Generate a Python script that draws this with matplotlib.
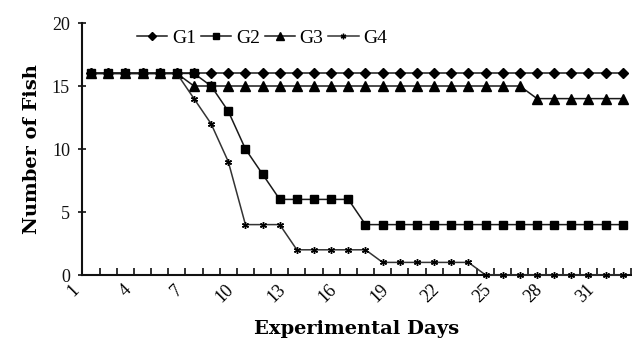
import matplotlib
matplotlib.use("Agg")
import matplotlib.pyplot as plt
import matplotlib.transforms as mtransforms
import numpy as np

days = list(range(1, 33))
g1 = [16] * 32
g2 = [16, 16, 16, 16, 16, 16, 16, 15, 13, 10, 8, 6, 6, 6, 6, 6,
      4, 4, 4, 4, 4, 4, 4, 4, 4, 4, 4, 4, 4, 4, 4, 4]
g3 = [16, 16, 16, 16, 16, 16, 15, 15, 15, 15, 15, 15, 15, 15, 15, 15,
      15, 15, 15, 15, 15, 15, 15, 15, 15, 15, 14, 14, 14, 14, 14, 14]
g4 = [16, 16, 16, 16, 16, 16, 14, 12, 9, 4, 4, 4, 2, 2, 2, 2,
      2, 1, 1, 1, 1, 1, 1, 0, 0, 0, 0, 0, 0, 0, 0, 0]
series_names = ["G1", "G2", "G3", "G4"]
xtick_labels = [str(d) for d in range(1, 33, 3)]
yticks = [0, 5, 10, 15, 20]

plt.rcParams['font.family'] = ['Liberation Serif', 'DejaVu Serif']

fig = plt.figure(figsize=(6.32, 3.46), dpi=100)
ax = fig.add_axes([0.1305, 0.2052, 0.8685, 0.7283])

lc = '#1a1a1a'
lw = 1.1
h1, = ax.plot(days, g1, color=lc, lw=lw, marker='D', ms=4.6, mfc='black', mec='black', zorder=3, clip_on=False)
h3, = ax.plot(days, g3, color=lc, lw=lw, marker='^', ms=6.5, mfc='black', mec='black', zorder=4, clip_on=False)
h4, = ax.plot(days, g4, color='#333333', lw=lw, marker=(6, 2, 0), ms=5, mfc='black', mec='black', mew=1.0, zorder=5, clip_on=False)
h2, = ax.plot(days, g2, color=lc, lw=lw, marker='s', ms=6.2, mfc='black', mec='black', zorder=6, clip_on=False)

ax.set_xlim(0.5, 32.5)
ax.set_ylim(0, 20)

for s in ['top', 'right']:
    ax.spines[s].set_visible(False)
for s in ['left', 'bottom']:
    ax.spines[s].set_linewidth(1.5)
    ax.spines[s].set_color('#111111')

ax.set_yticks(yticks)
ax.set_yticklabels([str(v) for v in yticks], fontsize=13)
ax.tick_params(axis='y', direction='inout', length=6, width=1.2, pad=6, colors='#111111')

label_pos = list(range(1, 33, 3))
ax.set_xticks(label_pos)
ax.set_xticklabels(xtick_labels, fontsize=13, rotation=45, ha='right', va='center', rotation_mode='anchor')
ax.set_xticks(np.arange(0.5, 33, 1.0), minor=True)
ax.tick_params(axis='x', which='major', length=0, pad=9)
ax.tick_params(axis='x', which='minor', direction='in', length=5, width=1.2, colors='#111111')
offset = mtransforms.ScaledTranslation(-0.14, 0, fig.dpi_scale_trans)
for lab in ax.get_xticklabels():
    lab.set_transform(lab.get_transform() + offset)

ax.set_ylabel("Number of Fish", fontsize=14, fontweight='bold', labelpad=8,
              family=['DejaVu Serif'])
ax.set_xlabel("Experimental Days", fontsize=14, fontweight='bold', labelpad=10,
              family=['DejaVu Serif'])

leg = ax.legend([h1, h2, h3, h4], series_names, loc='upper left', bbox_to_anchor=(0.085, 1.005),
                ncol=4, frameon=False, fontsize=14, handlelength=1.55, handletextpad=0.25,
                columnspacing=0.25, borderaxespad=0.0, markerscale=0.8)

fig.savefig("out.png", dpi=100)
